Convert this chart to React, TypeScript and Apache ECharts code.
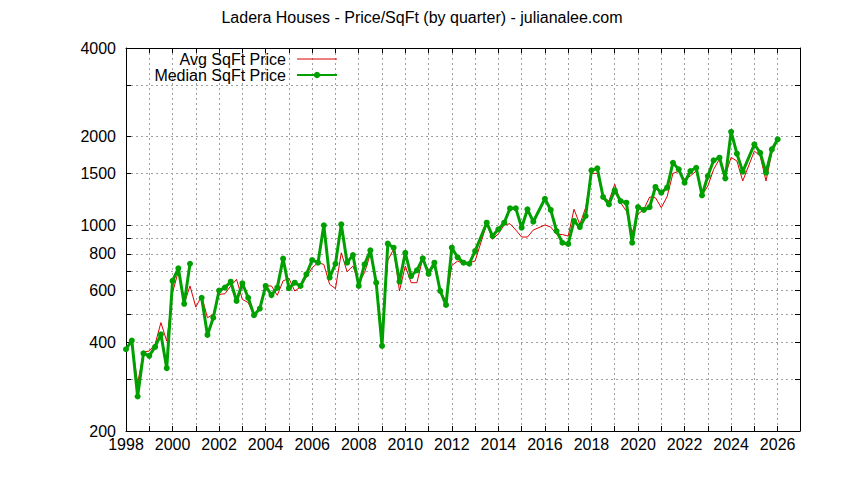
import React from 'react';
import { useEffect, useRef } from 'react';
import * as echarts from 'echarts';

// one value per quarter, starting 1998 Q1; null = no value that quarter
const startYear = 1998;

const avgSqFtPrice: (number | null)[] = [
  379, 404, 290, 370, 374, 394, 467, 404,
  590, 699, 541, 622, 527, 575, 485, 498,
  582, 585, 622, 655, 560, 546, 495, 521,
  622, 622, 578, 647, 660, 598, 617, 667,
  717, 746, 736, 630, 609, 806, 695, 727,
  638, 690, 800, 638, 430, 760, 830, 598,
  727, 638, 638, 772, 699, 746, 598, 553,
  730, 756, 740, 746, 756, null, 1010, 896,
  936, 1002, 1012, 963, 912, 912, 963, null,
  1002, 986, 932, 930, 919, 1133, 1007, 1147,
  1500, 1500, 1250, 1208, 1378, 1193, 1117, 943,
  1090, 1133, 1247, 1240, 1147, 1250, 1500, 1525,
  1432, 1470, 1528, 1264, 1359, 1548, 1680, 1481,
  1700, 1652, 1414, null, 1786, 1718, 1414, 1763,
  1943,
];

const medianSqFtPrice: (number | null)[] = [
  379, 406, 262, 367, 360, 386, 426, 327,
  647, 714, 541, 740, null, 567, 424, 485,
  600, 614, 643, 553, 635, 567, 495, 521,
  622, 579, 614, 770, 611, 638, 622, 681,
  762, 746, 1000, 664, 740, 1007, 746, 792,
  622, 736, 822, 638, 389, 866, 839, 643,
  806, 672, 703, 772, 684, 746, 598, 536,
  839, 778, 746, 740, 817, null, 1020, 919,
  969, 1020, 1141, 1141, 981, 1133, 1028, null,
  1230, 1127, 956, 872, 864, 1034, 986, 1075,
  1536, 1561, 1247, 1178, 1315, 1208, 1193, 872,
  1153, 1127, 1153, 1349, 1290, 1342, 1630, 1548,
  1394, 1528, 1568, 1264, 1470, 1662, 1696, 1443,
  2078, 1750, 1520, null, 1884, 1763, 1508, 1810,
  1958,
];

const yLabelValues = [200, 400, 600, 800, 1000, 1500, 2000, 4000];
const yGridValues = [300, 400, 500, 600, 700, 800, 900, 1000, 1500, 2000, 3000];
const xLabelYears = [1998, 2000, 2002, 2004, 2006, 2008, 2010, 2012, 2014, 2016, 2018, 2020, 2022, 2024, 2026];
const xGridYears = [
  1999, 2000, 2001, 2002, 2003, 2004, 2005, 2006, 2007, 2008, 2009, 2010, 2011, 2012,
  2013, 2014, 2015, 2016, 2017, 2018, 2019, 2020, 2021, 2022, 2023, 2024, 2025, 2026,
];

const App: React.FC = () => {
  const chartRef = useRef<HTMLDivElement>(null);

  useEffect(() => {
    if (!chartRef.current) return;
    const chart = echarts.init(chartRef.current, undefined, { renderer: 'svg' });

    // quarters where neither value exists are simply absent (line continues)
    const rows = avgSqFtPrice
      .map((avg, i) => ({ x: startYear + i / 4, avg, median: medianSqFtPrice[i] }))
      .filter((r) => r.avg !== null || r.median !== null);

    const font = 'Liberation Sans, Arial, sans-serif';
    const axisLine = { show: true, onZero: false, lineStyle: { color: '#000', width: 1 } };
    const gridLine = { show: true, lineStyle: { color: '#a0a0a0', width: 1, type: [2, 3] } };
    const xTick = { show: true, inside: true, length: 5, customValues: xGridYears, lineStyle: { color: '#000' } };
    const yTick = { show: true, inside: true, length: 5, customValues: yGridValues, lineStyle: { color: '#000' } };

    const option = {
      animation: false,
      textStyle: { fontFamily: font },
      title: {
        text: 'Ladera Houses - Price/SqFt (by quarter) - julianalee.com',
        left: 'center',
        top: 4,
        textStyle: { fontFamily: font, fontSize: 16, fontWeight: 'normal', color: '#000' },
      },
      legend: {
        data: [
          { name: 'Avg SqFt Price', itemStyle: { opacity: 0 }, lineStyle: { width: 1 } },
          { name: 'Median SqFt Price' },
        ],
        orient: 'vertical',
        align: 'right',
        right: 506,
        top: 51,
        padding: 0,
        itemGap: 0,
        itemWidth: 40,
        itemHeight: 8,
        selectedMode: false,
        textStyle: { fontFamily: font, fontSize: 16, color: '#000', lineHeight: 15, padding: [0, 6, 0, 0] },
      },
      grid: { left: 126, right: 44, top: 48, bottom: 49 },
      xAxis: [
        {
          type: 'value',
          min: startYear,
          max: 2026.96,
          axisLine,
          axisTick: xTick,
          axisLabel: {
            customValues: xLabelYears,
            formatter: (v: number) => String(Math.round(v)),
            color: '#000',
            fontSize: 16,
            fontFamily: font,
            margin: 5,
          },
          splitLine: gridLine,
        },
        {
          type: 'value',
          position: 'top',
          min: startYear,
          max: 2026.96,
          axisLine,
          axisTick: xTick,
          axisLabel: { show: false },
          splitLine: { show: false },
        },
      ],
      yAxis: [
        {
          type: 'log',
          logBase: 10,
          min: 200,
          max: 4000,
          axisLine,
          axisTick: yTick,
          axisLabel: {
            customValues: yLabelValues,
            formatter: (v: number) => String(Math.round(v)),
            color: '#000',
            fontSize: 16,
            fontFamily: font,
            margin: 10,
          },
          splitLine: gridLine,
        },
        {
          type: 'log',
          logBase: 10,
          position: 'right',
          min: 200,
          max: 4000,
          axisLine,
          axisTick: yTick,
          axisLabel: { show: false },
          splitLine: { show: false },
        },
      ],
      series: [
        {
          name: 'Avg SqFt Price',
          type: 'line',
          xAxisIndex: 0,
          yAxisIndex: 0,
          data: rows.map((r) => [r.x, r.avg === null ? '-' : r.avg]),
          symbol: 'none',
          color: '#dd0000',
          lineStyle: { color: '#dd0000', width: 1 },
          emphasis: { disabled: true },
        },
        {
          name: 'Median SqFt Price',
          type: 'line',
          xAxisIndex: 0,
          yAxisIndex: 0,
          data: rows.map((r) => [r.x, r.median === null ? '-' : r.median]),
          symbol: 'circle',
          symbolSize: 6,
          showAllSymbol: true,
          connectNulls: false,
          color: '#00a000',
          itemStyle: { color: '#00a000' },
          lineStyle: { color: '#00a000', width: 3 },
          emphasis: { disabled: true },
        },
      ],
    };

    chart.setOption(option);

    return () => {
      chart.dispose();
    };
  }, []);

  return (
    <div
      ref={chartRef}
      style={{ position: 'absolute', left: 0, top: 0, width: '844px', height: '480px', background: '#fff' }}
    ></div>
  );
};

export default App;
